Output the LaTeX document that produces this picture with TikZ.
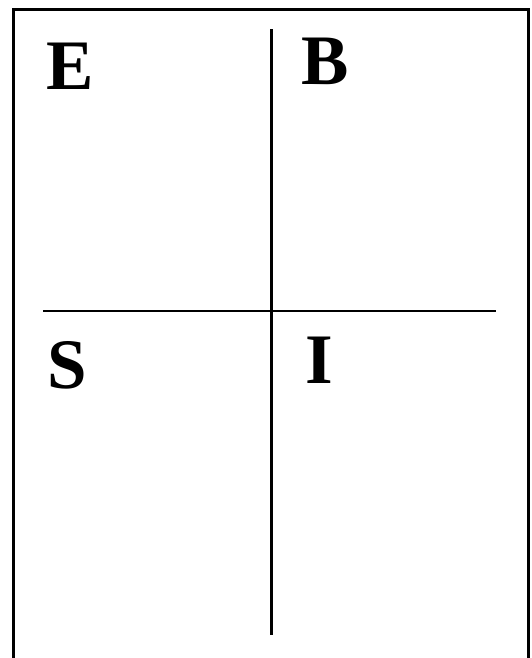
\documentclass[tikz,border=0pt]{standalone}
\usepackage{fontspec}
\setmainfont{Liberation Serif}
\usetikzlibrary{positioning}

\begin{document}
\begin{tikzpicture}[
x=1pt,y=-1pt,
frame/.style={line width=3pt,line cap=rect},
rule/.style={line width=2.5pt},
letter/.style={anchor=base west,inner sep=0pt,font=\fontsize{71}{71}\selectfont\bfseries}
]
\useasboundingbox (0,0) rectangle (531,658);
\draw[frame] (13.5,658) -- (13.5,9.5) -- (528.5,9.5) -- (528.5,658);
\coordinate (top) at (271.7,29.3);
\coordinate (bottom) at (271.7,635);
\coordinate (left) at (43.3,311);
\coordinate (right) at (496,311);
\draw[rule] (top) -- (bottom);
\draw[rule] (left) -- (right);
\node[letter] (e) at (46.5,89.3) {E};
\node[letter] (b) at (301.5,85) {B};
\node[letter] (s) at (47.5,388) {S};
\node[letter] (i) at (305,383.3) {I};
\end{tikzpicture}
\end{document}
